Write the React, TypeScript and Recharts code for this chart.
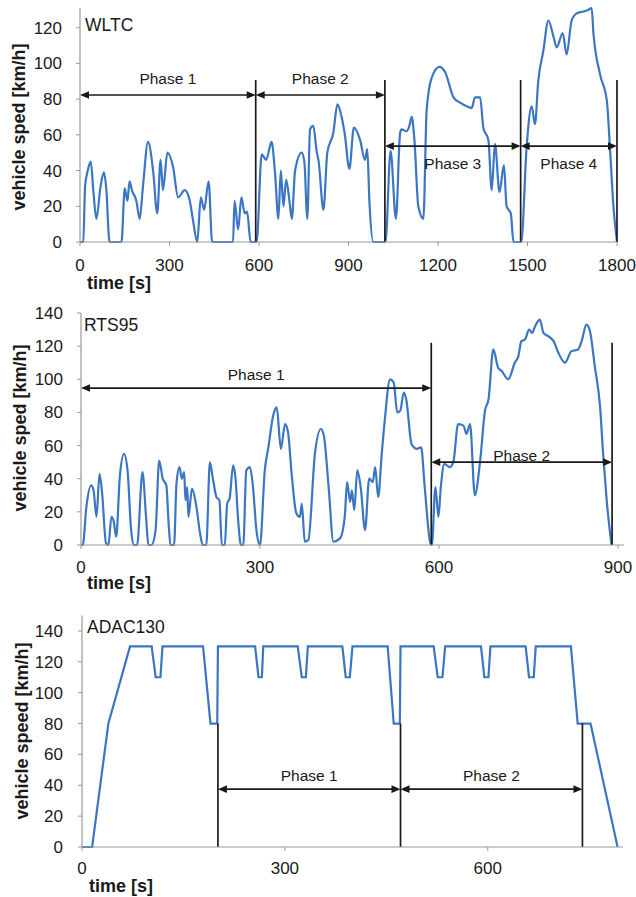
import React from 'react';
import { LineChart, Line, XAxis, YAxis, ReferenceLine } from 'recharts';

const FONT = '"Liberation Sans", Arial, Helvetica, sans-serif';
const INK = '#1a1a1a';
const BLUE = '#3a76c4';
const AXIS = '#9a9a9a';

// ---------- WLTC ----------
const wltcTime = [0, 11, 17, 26, 36, 45, 55, 68, 80, 88, 99, 139, 150, 159, 166, 174, 189, 200, 211, 228, 245, 259, 270, 278, 293, 312, 329, 351, 368, 379, 393, 405, 416, 431, 443, 513, 518, 530, 541, 552, 560, 572, 592, 609, 624, 642, 654, 665, 673, 682, 691, 702, 710, 721, 743, 752, 762, 771, 782, 793, 800, 816, 829, 849, 863, 877, 887, 903, 918, 939, 955, 963, 970, 983, 1024, 1041, 1059, 1073, 1078, 1095, 1104, 1112, 1121, 1134, 1151, 1162, 1179, 1205, 1224, 1252, 1274, 1296, 1313, 1324, 1341, 1352, 1369, 1380, 1391, 1406, 1421, 1430, 1444, 1453, 1479, 1497, 1514, 1525, 1536, 1553, 1570, 1587, 1598, 1618, 1631, 1648, 1665, 1687, 1704, 1715, 1721, 1743, 1766, 1777, 1788, 1800];
const wltcSpeed = [0, 0, 31, 40, 45, 28, 13, 30, 39, 30, 0, 0, 30, 23, 34, 29, 23, 13, 31, 56, 40, 16, 46, 29, 50, 42, 25, 29, 23, 12, 0, 25, 18, 34, 0, 0, 23, 7, 25, 16, 17, 0, 0, 49, 46, 56, 38, 13, 40, 20, 35, 23, 13, 40, 50, 45, 13, 63, 65, 51, 45, 18, 50, 61, 77, 70, 61, 41, 64, 57, 46, 52, 23, 0, 0, 51, 13, 61, 63, 62, 65, 70, 57, 20, 13, 74, 92, 98, 95, 81, 78, 76, 75, 81, 81, 64, 57, 29, 55, 28, 43, 20, 16, 0, 0, 53, 76, 66, 90, 107, 124, 115, 109, 117, 105, 124, 128, 129, 130, 131, 117, 94, 79, 51, 20, 0];
const wltcXTicks = [0, 300, 600, 900, 1200, 1500, 1800];
const wltcYTicks = [0, 20, 40, 60, 80, 100, 120];
const wltcBounds = [589, 1022, 1477, 1800];
const wltcBoundTop = 90.7;
const wltcPhaseNames = ['Phase 1', 'Phase 2', 'Phase 3', 'Phase 4'];
const wltcPhaseFrom = [0, 589, 1022, 1477];
const wltcPhaseTo = [589, 1022, 1477, 1800];
const wltcPhaseLevel = [82.3, 82.3, 53.7, 53.7];

// ---------- RTS95 ----------
const rtsTime = [0, 3, 9, 17, 21, 26, 31, 35, 42, 46, 51, 55, 59, 65, 72, 78, 84, 89, 94, 103, 109, 113, 118, 125, 131, 137, 143, 147, 150, 156, 160, 165, 169, 173, 175, 178, 180, 186, 193, 200, 204, 210, 216, 221, 227, 232, 236, 241, 245, 249, 255, 259, 263, 268, 272, 277, 283, 288, 294, 300, 308, 314, 322, 328, 335, 342, 347, 353, 361, 367, 370, 375, 381, 392, 402, 407, 415, 423, 434, 442, 446, 451, 454, 458, 463, 469, 476, 483, 489, 493, 498, 504, 509, 518, 524, 530, 535, 541, 545, 554, 563, 570, 576, 585, 588, 594, 599, 603, 609, 618, 624, 632, 641, 646, 652, 660, 669, 677, 683, 691, 699, 705, 716, 727, 733, 738, 744, 751, 756, 761, 769, 775, 783, 792, 800, 811, 822, 833, 839, 847, 853, 861, 870, 875, 881, 889];
const rtsSpeed = [0, 0, 23, 36, 33, 17, 43, 33, 1, 0, 17, 14, 5, 41, 55, 45, 9, 0, 0, 44, 17, 0, 0, 9, 51, 40, 36, 12, 0, 0, 37, 47, 40, 44, 27, 35, 17, 34, 24, 6, 0, 0, 50, 40, 29, 27, 0, 0, 25, 28, 48, 40, 17, 0, 0, 45, 47, 36, 9, 0, 45, 59, 78, 83, 58, 73, 68, 43, 19, 17, 25, 2, 3, 55, 70, 66, 35, 2, 4, 17, 38, 26, 33, 21, 45, 34, 9, 40, 38, 47, 29, 55, 75, 100, 98, 80, 81, 92, 88, 61, 58, 59, 35, 2, 0, 35, 17, 35, 49, 47, 50, 73, 72, 67, 73, 30, 51, 81, 88, 118, 107, 105, 100, 110, 114, 123, 124, 130, 128, 132, 136, 128, 126, 123, 116, 110, 117, 118, 123, 133, 129, 108, 83, 55, 27, 0];
const rtsXTicks = [0, 300, 600, 900];
const rtsYTicks = [0, 20, 40, 60, 80, 100, 120, 140];
const rtsBounds = [587, 890];
const rtsBoundTop = 122;
const rtsPhaseNames = ['Phase 1', 'Phase 2'];
const rtsPhaseFrom = [0, 587];
const rtsPhaseTo = [587, 890];
const rtsPhaseLevel = [94.7, 50];

// ---------- ADAC130 ----------
const adacTime = [0, 15, 39, 71, 103, 109, 116, 119, 179, 190, 200, 201, 256, 261, 266, 268, 319, 325, 331, 334, 385, 390, 396, 400, 452, 461, 470, 471, 520, 526, 533, 537, 590, 595, 601, 604, 656, 661, 668, 671, 723, 733, 752, 792];
const adacSpeed = [0, 0, 80, 130, 130, 110, 110, 130, 130, 80, 80, 130, 130, 110, 110, 130, 130, 110, 110, 130, 130, 110, 110, 130, 130, 80, 80, 130, 130, 110, 110, 130, 130, 110, 110, 130, 130, 110, 110, 130, 130, 80, 80, 0];
const adacXTicks = [0, 300, 600];
const adacYTicks = [0, 20, 40, 60, 80, 100, 120, 140];
const adacBounds = [201, 471, 740];
const adacBoundTop = 80;
const adacPhaseNames = ['Phase 1', 'Phase 2'];
const adacPhaseFrom = [201, 471];
const adacPhaseTo = [471, 740];
const adacPhaseLevel = [37.5, 37.5];

const zip = (t: number[], v: number[]) => t.map((x, i) => ({ t: x, v: v[i] }));

const makeArrow = (text: string, dy: number) => (p: any) => {
  const x1 = Number(p.x1), x2 = Number(p.x2), y = Number(p.y1);
  const h = 9, w = 3.8;
  return (
    <g>
      <line x1={x1 + 3} y1={y} x2={x2 - 3} y2={y} stroke={INK} strokeWidth={1.7} />
      <polygon points={`${x1},${y} ${x1 + h},${y - w} ${x1 + h},${y + w}`} fill={INK} />
      <polygon points={`${x2},${y} ${x2 - h},${y - w} ${x2 - h},${y + w}`} fill={INK} />
      <text x={(x1 + x2) / 2} y={y + dy} textAnchor="middle" dominantBaseline="central"
        fontSize={15.5} fontFamily={FONT} fill={INK}>{text}</text>
    </g>
  );
};

type PanelProps = {
  top: number; height: number;
  margin: { top: number; right: number; bottom: number; left: number };
  data: { t: number; v: number }[];
  xDomain: [number, number]; xTicks: number[];
  yDomain: [number, number]; yTicks: number[];
  lineType: 'monotone' | 'linear';
  bounds: number[]; boundTop: number;
  phaseNames: string[]; phaseFrom: number[]; phaseTo: number[]; phaseLevel: number[];
  labelDy: number[];
  name: string; nameX: number; nameY: number;
  yTitle: string; yTitleX: number; yTitleY: number;
  xTitleX: number; xTitleY: number;
  xTickMargin: number; yTickMargin: number;
};

function Panel(p: PanelProps) {
  const tickStyle = { fontSize: 17, fontFamily: FONT, fill: INK };
  const yLabel = () => (
    <g>
      <text x={p.yTitleX} y={p.yTitleY} transform={`rotate(-90 ${p.yTitleX} ${p.yTitleY})`}
        textAnchor="middle" dominantBaseline="central" fontWeight="bold" fontSize={18}
        fontFamily={FONT} fill={INK}>{p.yTitle}</text>
      <text x={p.nameX} y={p.nameY} dominantBaseline="central" fontSize={17.5}
        fontFamily={FONT} fill={INK}>{p.name}</text>
    </g>
  );
  const xLabel = () => (
    <text x={p.xTitleX} y={p.xTitleY} dominantBaseline="central" fontWeight="bold"
      fontSize={18} fontFamily={FONT} fill={INK}>time [s]</text>
  );
  return (
    <div style={{ position: 'absolute', left: 0, top: p.top, width: 636, height: p.height }}>
      <LineChart width={636} height={p.height} data={p.data} margin={p.margin}>
        <XAxis dataKey="t" type="number" domain={p.xDomain} ticks={p.xTicks} interval={0}
          height={30} tick={tickStyle} tickSize={4} tickMargin={p.xTickMargin}
          axisLine={{ stroke: AXIS, strokeWidth: 1.2 }} tickLine={{ stroke: AXIS }}
          allowDataOverflow label={xLabel} />
        <YAxis type="number" domain={p.yDomain} ticks={p.yTicks} interval={0} width={40}
          tick={tickStyle} tickSize={4} tickMargin={p.yTickMargin}
          axisLine={{ stroke: AXIS, strokeWidth: 1.2 }} tickLine={{ stroke: AXIS }}
          label={yLabel} />
        <Line dataKey="v" type={p.lineType} stroke={BLUE} strokeWidth={2.2} dot={false}
          activeDot={false} isAnimationActive={false} />
        {p.bounds.map((b, i) => (
          <ReferenceLine key={'b' + i} segment={[{ x: b, y: 0 }, { x: b, y: p.boundTop }]}
            stroke={INK} strokeWidth={1.7} ifOverflow="visible" />
        ))}
        {p.phaseNames.map((n, i) => (
          <ReferenceLine key={'a' + i}
            segment={[{ x: p.phaseFrom[i], y: p.phaseLevel[i] }, { x: p.phaseTo[i], y: p.phaseLevel[i] }]}
            ifOverflow="visible" shape={makeArrow(n, p.labelDy[i])} />
        ))}
      </LineChart>
    </div>
  );
}

export default function App() {
  return (
    <div style={{ position: 'absolute', left: 0, top: 0, width: 636, height: 897, background: '#fff' }}>
      <Panel top={0} height={300} margin={{ top: 8, right: 19, bottom: 28, left: 40 }}
        data={zip(wltcTime, wltcSpeed)} xDomain={[0, 1800]} xTicks={wltcXTicks}
        yDomain={[0, 131]} yTicks={wltcYTicks} lineType="monotone"
        bounds={wltcBounds} boundTop={wltcBoundTop}
        phaseNames={wltcPhaseNames} phaseFrom={wltcPhaseFrom} phaseTo={wltcPhaseTo}
        phaseLevel={wltcPhaseLevel} labelDy={[-16, -16, 17, 17]}
        name="WLTC" nameX={85} nameY={25}
        yTitle="vehicle sped [km/h]" yTitleX={19} yTitleY={127}
        xTitleX={87} xTitleY={283} xTickMargin={13} yTickMargin={14} />
      <Panel top={290} height={310} margin={{ top: 23, right: 12, bottom: 25, left: 41 }}
        data={zip(rtsTime, rtsSpeed)} xDomain={[0, 910]} xTicks={rtsXTicks}
        yDomain={[0, 140]} yTicks={rtsYTicks} lineType="monotone"
        bounds={rtsBounds} boundTop={rtsBoundTop}
        phaseNames={rtsPhaseNames} phaseFrom={rtsPhaseFrom} phaseTo={rtsPhaseTo}
        phaseLevel={rtsPhaseLevel} labelDy={[-14, -7]}
        name="RTS95" nameX={84} nameY={35}
        yTitle="vehicle sped [km/h]" yTitleX={20} yTitleY={138}
        xTitleX={87} xTitleY={293} xTickMargin={12} yTickMargin={14} />
      <Panel top={590} height={307} margin={{ top: 25.5, right: 13, bottom: 20, left: 42 }}
        data={zip(adacTime, adacSpeed)} xDomain={[0, 800]} xTicks={adacXTicks}
        yDomain={[0, 150]} yTicks={adacYTicks} lineType="linear"
        bounds={adacBounds} boundTop={adacBoundTop}
        phaseNames={adacPhaseNames} phaseFrom={adacPhaseFrom} phaseTo={adacPhaseTo}
        phaseLevel={adacPhaseLevel} labelDy={[-14, -14]}
        name="ADAC130" nameX={87} nameY={37}
        yTitle="vehicle speed [km/h]" yTitleX={22} yTitleY={141}
        xTitleX={89} xTitleY={296} xTickMargin={11} yTickMargin={15} />
    </div>
  );
}
